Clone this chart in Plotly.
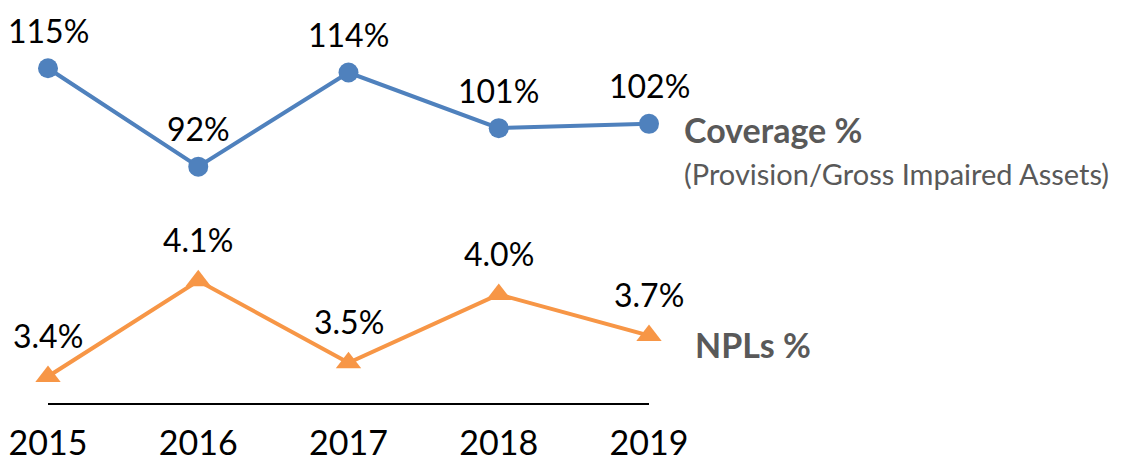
import plotly.graph_objects as go

years = ["2015", "2016", "2017", "2018", "2019"]
coverage = [115, 92, 114, 101, 102]
coverage_labels = ["115%", "92%", "114%", "101%", "102%"]
npl = [3.4, 4.1, 3.5, 4.0, 3.7]
npl_labels = ["3.4%", "4.1%", "3.5%", "4.0%", "3.7%"]

BLUE = "#4F81BD"
ORANGE = "#F79646"
GRAY = "#595959"
FONT = "Lato"

fig = go.Figure()
fig.add_trace(go.Scatter(
    x=years, y=coverage, mode="lines+markers", yaxis="y2",
    line=dict(color=BLUE, width=4),
    marker=dict(symbol="circle", size=20, color=BLUE),
    cliponaxis=False, showlegend=False, hoverinfo="skip"))
fig.add_trace(go.Scatter(
    x=years, y=npl, mode="lines+markers", yaxis="y",
    line=dict(color=ORANGE, width=4),
    marker=dict(symbol="triangle-up", size=22, color=ORANGE),
    cliponaxis=False, showlegend=False, hoverinfo="skip"))

annotations = []
for i, (v, t) in enumerate(zip(coverage, coverage_labels)):
    annotations.append(dict(x=i, y=v, xref="x", yref="y2", text=t, showarrow=False,
                            yshift=38, yanchor="middle", xanchor="center", borderpad=0,
                            font=dict(family=FONT, size=32, color="#000000")))
for i, (v, t) in enumerate(zip(npl, npl_labels)):
    annotations.append(dict(x=i, y=v, xref="x", yref="y", text=t, showarrow=False,
                            yshift=41, yanchor="middle", xanchor="center", borderpad=0,
                            font=dict(family=FONT, size=32, color="#000000")))

annotations.append(dict(x=1.055, y=0.693, xref="paper", yref="paper", text="<b>Coverage %</b>",
                        showarrow=False, xanchor="left", yanchor="middle",
                        font=dict(family=FONT, size=34, color=GRAY)))
annotations.append(dict(x=1.055, y=0.582, xref="paper", yref="paper",
                        text="(Provision/Gross Impaired Assets)",
                        showarrow=False, xanchor="left", yanchor="middle",
                        font=dict(family=FONT, size=29, color=GRAY)))
annotations.append(dict(x=1.073, y=0.149, xref="paper", yref="paper", text="<b>NPLs %</b>",
                        showarrow=False, xanchor="left", yanchor="middle",
                        font=dict(family=FONT, size=34, color=GRAY)))

fig.update_layout(
    width=1116, height=454,
    margin=dict(l=40, r=475, t=0, b=57),
    paper_bgcolor="white", plot_bgcolor="white",
    font=dict(family=FONT, size=34, color="#000000"),
    xaxis=dict(type="category", range=[0, 4], showline=True, linecolor="#000000", linewidth=1.5,
               showgrid=False, zeroline=False, ticks="outside", ticklen=9,
               tickcolor="rgba(0,0,0,0)", tickfont=dict(family=FONT, size=34, color="#000000")),
    yaxis=dict(range=[3.206, 6.095], visible=False, showgrid=False, zeroline=False),
    yaxis2=dict(range=[36.75, 129.08], overlaying="y", visible=False, showgrid=False, zeroline=False),
    annotations=annotations,
)

fig.write_html("out.html")
